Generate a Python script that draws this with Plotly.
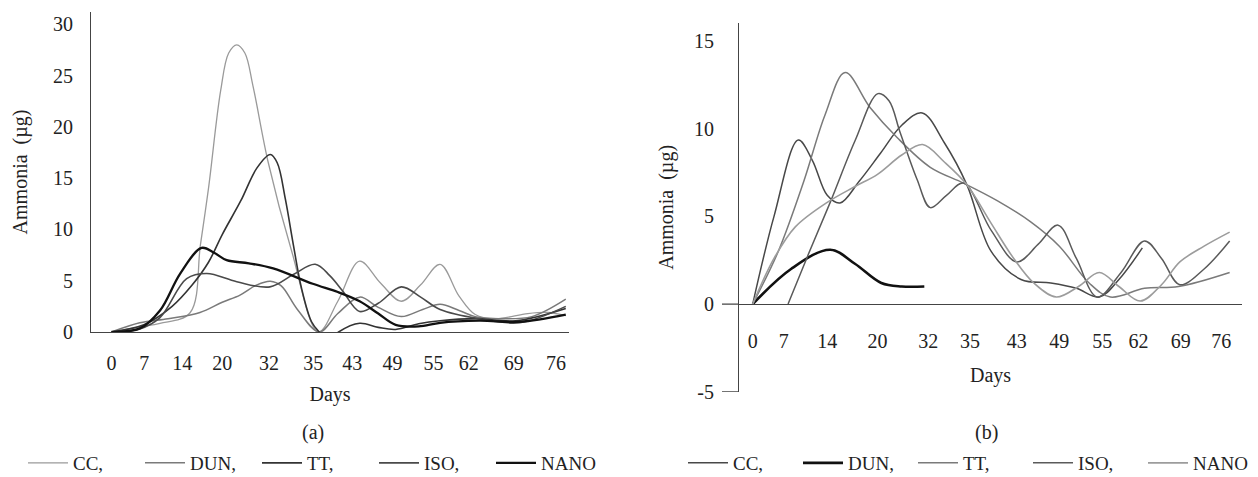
import plotly.graph_objects as go

# ---------------- data ----------------
days = ["0", "7", "14", "20", "32", "35", "43", "49", "55", "62", "69", "76"]
# horizontal slot of each day label on the (unevenly spaced) original axes
slots_a = [0, 0.81, 1.75, 2.74, 3.90, 4.99, 5.96, 6.95, 7.97, 8.84, 9.95, 11.0]
slots_b = [0, 0.73, 1.75, 2.93, 4.12, 5.10, 6.20, 7.20, 8.21, 9.06, 10.05, 11.0]
names = ["CC,", "DUN,", "TT,", "ISO,", "NANO"]

# panel (a)
a_cc_x = [0, 0.7, 1.2, 1.94, 2.2, 2.4, 2.7, 2.9, 3.1, 3.3, 3.5, 3.88, 4.45, 5.12, 5.6, 6.14, 6.65, 7.17, 7.65, 8.13, 8.6, 9.0, 9.5, 10.3, 10.8, 11.24]
a_cc_y = [0, 0.5, 0.85, 1.85, 8.5, 14.0, 23.5, 27.2, 28.0, 27.2, 24.0, 16.5, 8.0, 0, 3.0, 6.9, 4.8, 3.0, 4.6, 6.6, 3.5, 1.7, 1.3, 1.8, 1.9, 1.6]
a_dun_x = [0, 0.7, 1.4, 2.19, 2.74, 3.18, 3.6, 3.93, 4.2, 4.6, 5.14, 5.6, 6.14, 6.6, 7.17, 7.7, 8.13, 8.6, 9.0, 9.6, 10.4, 11.24]
a_dun_y = [0, 0.9, 1.3, 1.9, 2.9, 3.6, 4.6, 4.95, 4.5, 2.2, 0, 1.8, 3.4, 2.4, 1.5, 2.2, 2.7, 2.1, 1.5, 1.3, 1.5, 3.2]
a_tt_x = [0, 0.8, 1.5, 2.0, 2.4, 2.74, 3.2, 3.6, 3.93, 4.1, 4.3, 4.5, 4.7, 4.95, 5.14, 5.4, 5.62, 6.14, 6.6, 7.03, 7.6, 8.13, 9.0, 10.0, 11.24]
a_tt_y = [0, 0.7, 2.5, 4.6, 6.8, 9.5, 12.8, 16.0, 17.3, 16.5, 13.0, 8.5, 4.3, 1.0, 0, -0.8, 0, 0.85, 0.45, 0.25, 0.8, 1.1, 1.3, 1.1, 2.3]
a_iso_x = [0, 0.7, 1.2, 1.86, 2.36, 3.1, 3.92, 4.5, 5.04, 5.4, 5.72, 6.14, 6.6, 7.17, 7.65, 8.13, 9.1, 10.1, 11.24]
a_iso_y = [0, 0.3, 1.4, 5.2, 5.7, 4.9, 4.4, 5.6, 6.6, 5.5, 4.0, 2.0, 2.8, 4.4, 3.4, 2.2, 1.3, 0.9, 2.5]
a_nano_x = [0, 0.7, 1.2, 1.7, 2.23, 2.55, 2.85, 3.4, 4.0, 4.98, 5.6, 6.14, 6.6, 7.03, 7.6, 8.13, 9.1, 10.1, 11.24]
a_nano_y = [0, 0.35, 2.1, 5.7, 8.2, 7.7, 7.0, 6.7, 6.2, 4.7, 3.9, 3.0, 1.8, 0.7, 0.55, 0.9, 1.1, 1.0, 1.7]

# panel (b)
b_cc_x = [0, 0.5, 1.07, 1.4, 1.75, 2.05, 2.5, 3.0, 3.5, 3.98, 4.5, 5.03, 5.6, 6.3, 7.0, 7.6, 8.14, 8.6, 9.15]
b_cc_y = [0, 5.0, 9.35, 8.2, 6.2, 5.76, 7.0, 8.6, 10.2, 10.9, 9.2, 6.8, 3.0, 1.4, 1.2, 0.9, 0.4, 1.4, 3.2]
b_dun_x = [0, 0.9, 1.82, 2.4, 3.02, 3.5, 4.03]
b_dun_y = [0, 2.0, 3.1, 2.3, 1.2, 1.0, 1.0]
b_tt_x = [0, 0.6, 1.2, 1.7, 2.17, 2.76, 3.39, 4.17, 4.95, 5.74, 6.52, 7.2, 7.9, 8.4, 9.2, 10.0, 11.2]
b_tt_y = [0, 3.0, 7.0, 10.8, 13.2, 11.2, 9.5, 7.8, 6.9, 5.9, 4.7, 3.3, 1.2, 0.4, 0.9, 1.0, 1.8]
b_iso_x = [0.83, 1.3, 1.82, 2.4, 2.94, 3.2, 3.46, 3.86, 4.17, 4.55, 4.95, 5.6, 6.2, 6.7, 7.17, 7.6, 8.09, 8.65, 9.2, 9.6, 10.03, 10.6, 11.2]
b_iso_y = [0, 2.8, 5.8, 9.3, 12.0, 11.6, 9.8, 7.1, 5.5, 6.2, 6.9, 4.2, 2.4, 3.4, 4.5, 2.6, 0.4, 1.8, 3.6, 2.6, 1.1, 2.0, 3.6]
b_nano_x = [0, 0.5, 1.0, 1.75, 2.4, 2.93, 3.5, 3.99, 4.5, 5.03, 5.6, 6.13, 6.6, 7.13, 7.65, 8.14, 8.6, 9.1, 9.6, 10.03, 10.6, 11.2]
b_nano_y = [0, 2.6, 4.4, 5.8, 6.7, 7.4, 8.5, 9.1, 8.1, 6.8, 4.6, 2.6, 1.2, 0.4, 1.0, 1.8, 1.0, 0.17, 1.1, 2.4, 3.3, 4.1]

y_ticks_a = [0, 5, 10, 15, 20, 25, 30]
y_ticks_b = [-5, 0, 5, 10, 15]

# ---------------- styles ----------------
W, H = 1258, 477
OFF = 8  # page body margin that shifts the figure on screen
FONT = "Liberation Serif"
TXT = "#222222"
AX = "#444444"
cols_a = ["#9a9a9a", "#7a7a7a", "#333333", "#4a4a4a", "#111111"]
wid_a = [1.3, 1.5, 1.6, 1.6, 2.3]
cols_b = ["#484848", "#111111", "#7a7a7a", "#5a5a5a", "#9c9c9c"]
wid_b = [1.5, 2.6, 1.5, 1.5, 1.6]

fig = go.Figure()
a_data = [(a_cc_x, a_cc_y), (a_dun_x, a_dun_y), (a_tt_x, a_tt_y), (a_iso_x, a_iso_y), (a_nano_x, a_nano_y)]
b_data = [(b_cc_x, b_cc_y), (b_dun_x, b_dun_y), (b_tt_x, b_tt_y), (b_iso_x, b_iso_y), (b_nano_x, b_nano_y)]
for i, (xs, ys) in enumerate(a_data):
    fig.add_trace(go.Scatter(x=xs, y=ys, mode="lines", name=names[i], xaxis="x", yaxis="y",
                             line=dict(color=cols_a[i], width=wid_a[i], shape="spline", smoothing=1.0),
                             legend="legend", hoverinfo="skip"))
for i, (xs, ys) in enumerate(b_data):
    fig.add_trace(go.Scatter(x=xs, y=ys, mode="lines", name=names[i], xaxis="x2", yaxis="y2",
                             line=dict(color=cols_b[i], width=wid_b[i], shape="spline", smoothing=1.0),
                             legend="legend2", hoverinfo="skip"))

def px_x(p):
    return (p - OFF) / W

def px_y(p):
    return (H - (p - OFF)) / H

FS = 20
LFS = 19
tickfont = dict(family=FONT, size=FS, color=TXT)
titlefont = dict(family=FONT, size=FS, color=TXT)

fig.update_layout(
    width=W, height=H,
    margin=dict(l=0, r=0, t=0, b=0, autoexpand=False),
    paper_bgcolor="white", plot_bgcolor="white",
    font=dict(family=FONT, color=TXT, size=FS),
    showlegend=True,
    xaxis=dict(domain=[px_x(91), px_x(569)], range=[-0.507, 11.32], anchor="y", automargin=False,
               tickmode="array", tickvals=slots_a, ticktext=days,
               showline=True, linecolor=AX, linewidth=1.2, mirror=False,
               ticks="outside", ticklen=13, tickcolor="rgba(0,0,0,0)",
               showgrid=False, zeroline=False, tickfont=tickfont,
               title=dict(text="Days", font=titlefont, standoff=13)),
    yaxis=dict(domain=[px_y(332), px_y(12)], range=[0, 31.2], anchor="x", automargin=False,
               tickmode="array", tickvals=y_ticks_a, ticktext=[str(v) for v in y_ticks_a],
               showline=True, linecolor=AX, linewidth=1.2,
               ticks="outside", ticklen=13, tickcolor="rgba(0,0,0,0)",
               showgrid=False, zeroline=False, tickfont=tickfont,
               title=dict(text="Ammonia\u00a0 (µg)", font=titlefont, standoff=19)),
    xaxis2=dict(domain=[px_x(739), px_x(1242)], range=[-0.322, 11.49], anchor="free",
                position=px_y(304), automargin=False,
                tickmode="array", tickvals=slots_b, ticktext=days,
                showline=True, linecolor=AX, linewidth=1.2,
                ticks="outside", ticklen=19, tickcolor="rgba(0,0,0,0)",
                showgrid=False, zeroline=False, tickfont=tickfont,
                title=dict(text="Days", font=titlefont, standoff=16)),
    yaxis2=dict(domain=[px_y(391.7), px_y(23)], range=[-5, 16.03], anchor="x2", automargin=False,
                tickmode="array", tickvals=y_ticks_b, ticktext=[str(v) for v in y_ticks_b],
                showline=True, linecolor=AX, linewidth=1.2,
                ticks="outside", ticklen=20, tickcolor="rgba(0,0,0,0)",
                showgrid=False, zeroline=False, tickfont=tickfont,
                title=dict(text="Ammonia\u00a0 (µg)", font=titlefont, standoff=14)),
    legend=dict(orientation="h", x=px_x(23), y=px_y(463), xanchor="left", yanchor="middle",
                font=dict(family=FONT, size=LFS, color=TXT), bgcolor="rgba(0,0,0,0)",
                entrywidth=62, entrywidthmode="pixels", itemwidth=40, tracegroupgap=0),
    legend2=dict(orientation="h", x=px_x(1258), y=px_y(463), xanchor="right", yanchor="middle",
                 font=dict(family=FONT, size=LFS, color=TXT), bgcolor="rgba(0,0,0,0)",
                 entrywidth=60, entrywidthmode="pixels", itemwidth=40, tracegroupgap=0),
    annotations=[
        dict(text="(a)", x=px_x(313), y=px_y(432), xref="paper", yref="paper", showarrow=False,
             xanchor="center", yanchor="middle", font=dict(family=FONT, size=FS, color=TXT)),
        dict(text="(b)", x=px_x(986), y=px_y(432), xref="paper", yref="paper", showarrow=False,
             xanchor="center", yanchor="middle", font=dict(family=FONT, size=FS, color=TXT)),
    ],
    shapes=[
        dict(type="line", xref="paper", yref="y2", x0=px_x(722), x1=px_x(739), y0=0, y1=0,
             line=dict(color=AX, width=1.2)),
        dict(type="line", xref="paper", yref="y2", x0=px_x(722), x1=px_x(739), y0=-5, y1=-5,
             line=dict(color=AX, width=1.2)),
    ],
)

fig.write_html("out.html")
